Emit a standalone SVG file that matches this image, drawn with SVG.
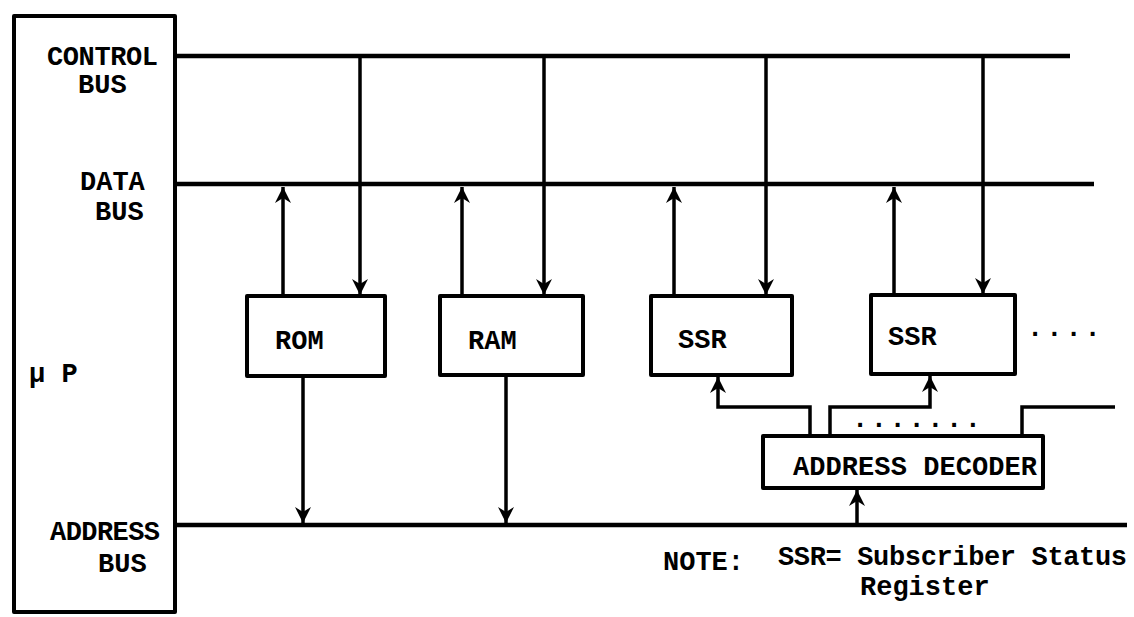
<svg xmlns="http://www.w3.org/2000/svg" width="1134" height="617" viewBox="0 0 1134 617">
<style>
.box{fill:none;stroke:#000;stroke-width:4;stroke-linejoin:round}
.bus{fill:none;stroke:#000;stroke-width:4.5;stroke-linecap:butt}
.con{fill:none;stroke:#000;stroke-width:3.5}
.t{font-family:"Liberation Mono","Courier New",monospace;font-size:27px;font-weight:bold;fill:#000}
</style>
<defs>
<marker id="ah" markerUnits="userSpaceOnUse" markerWidth="20" markerHeight="20" viewBox="-18 -10 20 20" refX="0" refY="0" orient="auto">
<path d="M0,0 L-16,-8 L-11,0 L-16,8 Z" fill="#000"/>
</marker>
</defs>
<rect width="1134" height="617" fill="#fff"/>

<g id="mp">
<rect class="box" x="14" y="16" width="161" height="596"/>
<text class="t" x="29" y="382" font-size="30">μ P</text>
</g>

<g id="labels">
<text class="t" x="47" y="65" textLength="111">CONTROL</text>
<text class="t" x="78" y="93">BUS</text>
<text class="t" x="80" y="190">DATA</text>
<text class="t" x="95" y="220">BUS</text>
<text class="t" x="50" y="540" textLength="110">ADDRESS</text>
<text class="t" x="98" y="572">BUS</text>
</g>

<g id="rom">
<rect class="box" x="247" y="296" width="138" height="80"/>
<text class="t" x="275" y="349">ROM</text>
</g>
<g id="ram">
<rect class="box" x="440" y="296" width="143" height="79"/>
<text class="t" x="468" y="349">RAM</text>
</g>
<g id="ssr1">
<rect class="box" x="651" y="296" width="141" height="79"/>
<text class="t" x="678" y="348">SSR</text>
</g>
<g id="ssr2">
<rect class="box" x="871" y="295" width="144" height="79"/>
<text class="t" x="888" y="345">SSR</text>
</g>
<g id="more">
<text class="t" x="1027" y="336" font-size="32" letter-spacing="3">....</text>
</g>
<g id="decoder">
<rect class="box" x="763" y="436" width="280" height="52"/>
<text class="t" x="793" y="475" textLength="244">ADDRESS DECODER</text>
</g>
<g id="note">
<text class="t" x="663" y="570">NOTE:</text>
<text class="t" x="778" y="565" textLength="349">SSR= Subscriber Status</text>
<text class="t" x="860" y="595">Register</text>
</g>

<g id="connectors">
<line class="bus" x1="175" y1="56" x2="1070" y2="56"/>
<line class="bus" x1="175" y1="184" x2="1094" y2="184"/>
<line class="bus" x1="175" y1="525" x2="1127" y2="525"/>

<line class="con" x1="360" y1="56" x2="360" y2="295" marker-end="url(#ah)"/>
<line class="con" x1="544" y1="56" x2="544" y2="295" marker-end="url(#ah)"/>
<line class="con" x1="766" y1="56" x2="766" y2="295" marker-end="url(#ah)"/>
<line class="con" x1="983" y1="56" x2="983" y2="294" marker-end="url(#ah)"/>

<line class="con" x1="283" y1="296" x2="283" y2="187" marker-end="url(#ah)"/>
<line class="con" x1="462" y1="296" x2="462" y2="187" marker-end="url(#ah)"/>
<line class="con" x1="674" y1="296" x2="674" y2="187" marker-end="url(#ah)"/>
<line class="con" x1="894" y1="295" x2="894" y2="187" marker-end="url(#ah)"/>

<line class="con" x1="303" y1="376" x2="303" y2="523" marker-end="url(#ah)"/>
<line class="con" x1="506" y1="375" x2="506" y2="523" marker-end="url(#ah)"/>

<line class="con" x1="857" y1="525" x2="857" y2="490" marker-end="url(#ah)"/>

<path class="con" d="M810,436 V407 H718 V377" marker-end="url(#ah)"/>
<path class="con" d="M830,436 V407 H930 V376" marker-end="url(#ah)"/>
<path class="con" d="M1022,436 V407 H1115"/>
<text class="t" x="852" y="427" font-size="18" letter-spacing="2.6">.......</text>
</g>
</svg>
